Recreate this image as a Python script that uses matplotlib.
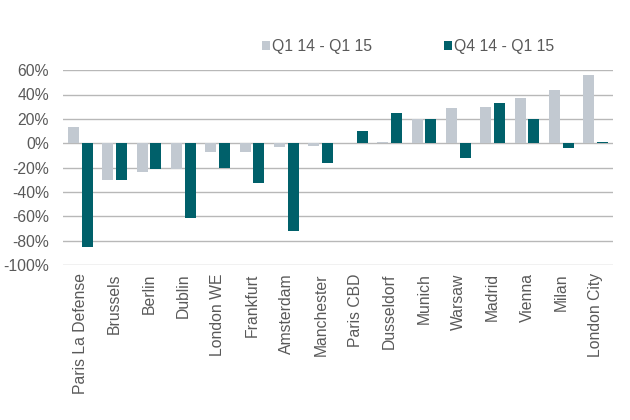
import matplotlib
matplotlib.use("Agg")
import matplotlib.pyplot as plt
import numpy as np
from matplotlib.ticker import FuncFormatter

cities = ["Paris La Defense", "Brussels", "Berlin", "Dublin", "London WE", "Frankfurt",
          "Amsterdam", "Manchester", "Paris CBD", "Dusseldorf", "Munich", "Warsaw",
          "Madrid", "Vienna", "Milan", "London City"]
q1_14_q1_15 = [13, -30, -24, -21, -7, -7, -3, -2, 0, 1, 20, 29, 30, 37, 44, 56]
q4_14_q1_15 = [-85, -30, -21, -61, -20, -33, -72, -16, 10, 25, 20, -12, 33, 20, -4, 1]
series_names = ["Q1 14 - Q1 15", "Q4 14 - Q1 15"]
yticks = [60, 40, 20, 0, -20, -40, -60, -80, -100]

plt.rcParams['font.family'] = ['Liberation Sans', 'DejaVu Sans']
grey = "#c2c9d1"
teal = "#00606a"
txt = "#595959"
fs = 11.3

fig = plt.figure(figsize=(6.3, 4.2), dpi=100)
ax = fig.add_axes([0.1, 0.369, 0.873, 0.464])
x = np.arange(len(cities))
w = 0.32
ax.bar(x - 0.2, q1_14_q1_15, width=w, color=grey, label=series_names[0], zorder=3)
ax.bar(x + 0.2, q4_14_q1_15, width=w, color=teal, label=series_names[1], zorder=3)

ax.set_xlim(-0.5, len(cities) - 0.5)
ax.set_ylim(-100, 60)
ax.set_yticks(yticks)
ax.yaxis.set_major_formatter(FuncFormatter(lambda v, p: f"{int(v)}%"))
ax.grid(axis='y', color="#b8b8b8", linewidth=1.0, zorder=0)
for s in ax.spines.values():
    s.set_visible(False)
ax.tick_params(axis='both', length=0, colors=txt, labelsize=fs)
ax.tick_params(axis='y', pad=10)
ax.set_xticks(x)
ax.set_xticklabels(cities, rotation=90, va='top', ha='center')
ax.tick_params(axis='x', pad=6)

fig.legend(loc='upper left', bbox_to_anchor=(0.393, 0.94), ncol=2, frameon=False,
           handlelength=0.5, handleheight=0.5, handletextpad=0.15, columnspacing=4.6,
           fontsize=fs, labelcolor=txt)

fig.savefig("out.png", dpi=100)
